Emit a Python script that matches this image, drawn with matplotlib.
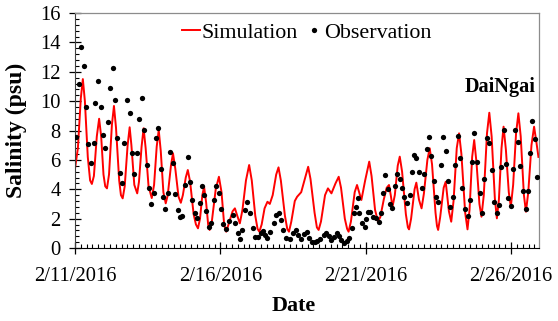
import numpy as np
import matplotlib
matplotlib.use("Agg")
from matplotlib import pyplot as plt
from matplotlib.ticker import MultipleLocator, FixedLocator, FixedFormatter

plt.rcParams['font.family'] = ['Liberation Serif', 'DejaVu Serif']

# tiempo en dias desde 2/11/2016 00:00
sim_day = [0.00, 0.10, 0.20, 0.27, 0.34, 0.44, 0.52, 0.58, 0.65, 0.75, 0.83, 0.90,
           0.98, 1.04, 1.10, 1.17, 1.27, 1.34, 1.41, 1.52, 1.58, 1.64, 1.71, 1.81,
           1.88, 1.94, 2.04, 2.14, 2.20, 2.29, 2.36, 2.43, 2.53, 2.64, 2.72, 2.81,
           2.88, 2.95, 3.04, 3.12, 3.19, 3.30, 3.37, 3.45, 3.56, 3.64, 3.71, 3.81,
           3.88, 3.96, 4.08, 4.16, 4.23, 4.30, 4.38, 4.44, 4.51, 4.58, 4.63, 4.70,
           4.84, 4.95, 5.04, 5.13, 5.20, 5.28, 5.42, 5.50, 5.58, 5.67, 5.76, 5.88,
           5.99, 6.08, 6.20, 6.28, 6.34, 6.42, 6.52, 6.62, 6.70, 6.80, 6.92, 7.00,
           7.08, 7.22, 7.30, 7.36, 7.44, 7.56, 7.64, 7.78, 7.92, 8.02, 8.10, 8.24,
           8.32, 8.38, 8.46, 8.60, 8.70, 8.82, 8.96, 9.07, 9.15, 9.28, 9.36, 9.41,
           9.49, 9.62, 9.70, 9.85, 9.98, 10.12, 10.20, 10.32, 10.42, 10.50, 10.62,
           10.72, 10.80, 10.86, 10.92, 11.00, 11.10, 11.17, 11.25, 11.38, 11.45,
           11.49, 11.56, 11.68, 11.74, 11.83, 11.92, 12.00, 12.12, 12.20, 12.28,
           12.40, 12.45, 12.49, 12.56, 12.68, 12.75, 12.86, 12.94, 13.02, 13.13,
           13.21, 13.29, 13.42, 13.50, 13.57, 13.66, 13.73, 13.81, 13.91, 13.98,
           14.06, 14.17, 14.25, 14.33, 14.44, 14.51, 14.58, 14.67, 14.74, 14.82,
           14.92, 14.99, 15.07, 15.17, 15.25, 15.33, 15.44, 15.51, 15.59, 15.70,
           15.79, 15.87, 15.94]
sim_psu = [5.4, 6.8, 10.2, 11.5, 10.0, 6.2, 4.6, 4.36, 4.9, 7.6, 8.8, 7.6,
           5.0, 4.2, 4.06, 5.0, 8.4, 9.67, 8.2, 4.6, 3.6, 3.38, 4.2, 7.0,
           8.22, 7.0, 4.3, 3.72, 4.5, 6.9, 8.15, 6.8, 4.2, 3.4, 4.3, 6.9,
           8.03, 6.6, 3.8, 3.04, 3.6, 5.6, 6.45, 5.4, 3.5, 3.08, 3.6, 4.8,
           5.31, 4.5, 2.3, 1.6, 1.34, 2.0, 3.6, 4.17, 3.1, 1.6, 1.23, 1.7,
           4.0, 4.85, 3.8, 1.6, 1.11, 1.6, 2.5, 2.70, 2.2, 1.68, 2.6, 4.6,
           5.65, 4.6, 2.2, 1.3, 1.11, 1.6, 2.7, 3.15, 3.0, 3.6, 5.0, 5.49,
           4.6, 2.2, 1.3, 1.11, 1.8, 3.2, 3.49, 3.8, 4.8, 5.53, 4.7, 2.4,
           1.4, 1.23, 1.8, 3.6, 4.06, 3.72, 4.4, 4.85, 4.1, 2.0, 1.3, 1.11,
           1.8, 3.8, 4.29, 3.27, 4.6, 5.88, 4.9, 2.6, 1.8, 2.1, 3.3,
           4.1, 4.29, 3.6, 2.81, 3.6, 5.6, 6.22, 5.2, 2.3, 1.4,
           1.27, 2.0, 4.0, 4.45, 3.3, 2.7, 3.7, 6.0, 6.79, 5.7,
           2.4, 1.5, 1.23, 2.1, 4.1, 4.51, 2.5, 1.79, 3.2, 6.8,
           7.81, 6.4, 2.4, 1.27, 2.6, 6.2, 7.35, 5.8, 3.0, 2.13,
           3.6, 7.8, 9.21, 7.6, 3.4, 2.02, 3.3, 6.8, 8.26, 6.7,
           3.8, 2.81, 4.3, 7.8, 9.17, 7.6, 3.6, 2.47, 3.8, 7.0,
           8.26, 7.2, 6.2]

obs_day = [0.03, 0.13, 0.22, 0.30, 0.38, 0.45, 0.55, 0.64, 0.70, 0.79, 0.88, 0.96,
           1.04, 1.13, 1.21, 1.29, 1.37, 1.46, 1.54, 1.61, 1.69, 1.80, 1.88, 1.96,
           2.03, 2.12, 2.21, 2.29, 2.38, 2.46, 2.53, 2.60, 2.71, 2.78, 2.86, 2.95,
           3.03, 3.11, 3.19, 3.28, 3.36, 3.44, 3.53, 3.60, 3.67, 3.77, 3.87, 3.95,
           4.02, 4.12, 4.20, 4.29, 4.37, 4.44, 4.52, 4.60, 4.69, 4.78, 4.86, 4.94,
           5.02, 5.09, 5.18, 5.30, 5.42, 5.50, 5.59, 5.68, 5.76, 5.84, 5.93, 6.01,
           6.11, 6.20, 6.30, 6.39, 6.47, 6.53, 6.62, 6.71, 6.83, 6.92, 7.00, 7.08,
           7.17, 7.27, 7.38, 7.49, 7.59, 7.68, 7.76, 7.88, 7.97, 8.06, 8.15, 8.24,
           8.34, 8.44, 8.55, 8.63, 8.72, 8.82, 8.91, 9.00, 9.07, 9.16, 9.25, 9.34,
           9.41, 9.53, 9.61, 9.67, 9.73, 9.78, 9.87, 9.96, 10.00, 10.07, 10.16, 10.26,
           10.35, 10.44, 10.51, 10.58, 10.65, 10.76, 10.83, 10.92, 11.00, 11.08, 11.17,
           11.25, 11.33, 11.42, 11.51, 11.60, 11.67, 11.74, 11.84, 11.93, 12.00, 12.09,
           12.17, 12.26, 12.34, 12.42, 12.50, 12.58, 12.67, 12.75, 12.83, 12.91, 12.99,
           13.08, 13.16, 13.25, 13.32, 13.41, 13.50, 13.58, 13.65, 13.73, 13.82, 13.92,
           14.00, 14.08, 14.16, 14.25, 14.33, 14.41, 14.50, 14.57, 14.65, 14.74, 14.82,
           14.91, 14.99, 15.07, 15.15, 15.24, 15.32, 15.40, 15.50, 15.57, 15.65, 15.73,
           15.81, 15.90]
obs_psu = [7.58, 11.2, 13.7, 12.39, 9.58, 7.08, 5.76, 7.17, 9.89, 11.39, 9.58, 7.67,
           6.79, 8.58, 10.87, 12.27, 10.07, 7.47, 5.08, 4.40, 7.17, 10.07, 9.17, 6.49,
           5.04, 6.49, 8.76, 10.19, 8.03, 5.67, 4.06, 3.0, 3.77, 7.47, 8.15, 5.36,
           3.49, 2.65, 3.77, 6.56, 5.76, 3.68, 2.59, 2.09, 2.18, 4.27, 6.17, 4.51,
           3.27, 2.36, 2.06, 3.04, 4.24, 3.61, 2.54, 1.45, 1.72, 3.27, 4.24, 3.77,
           2.65, 1.63, 1.27, 1.82, 2.25, 1.72, 1.0, 0.59, 1.23, 2.59, 3.15, 2.41,
           1.34, 0.73, 0.73, 1.0, 1.16, 0.88, 0.66, 1.11, 1.72, 2.25, 2.36, 1.91,
           1.23, 0.66, 0.59, 1.0, 1.23, 0.88, 0.59, 0.95, 1.11, 0.66, 0.43, 0.43,
           0.50, 0.59, 0.88, 1.04, 0.82, 0.54, 0.73, 1.04, 0.82, 0.54, 0.36, 0.50,
           0.66, 1.34, 2.36, 2.77, 3.38, 2.41, 1.68, 1.41, 1.95, 2.47, 2.47, 2.13,
           2.02, 1.79, 2.36, 3.77, 4.97, 4.04, 3.0, 2.70, 4.22, 5.04, 4.68,
           4.06, 3.49, 3.04, 3.61, 5.19, 6.33, 6.11, 5.19, 4.06, 5.04, 6.72,
           7.58, 6.26, 4.56, 3.49, 3.15, 5.65, 7.58, 6.62, 4.56, 2.77, 3.49,
           5.65, 7.62, 6.11, 4.06, 2.63, 2.18, 3.27, 5.88, 7.81, 5.88, 3.72,
           2.41, 4.68, 7.47, 7.13, 5.31, 3.15, 2.36, 2.93, 5.53, 8.03, 5.72,
           3.38, 2.86, 5.36, 8.03, 7.24, 5.58, 3.88, 2.63, 3.88, 6.45, 8.67,
           7.40, 4.85]

fechas_pos = [0, 5, 10, 15]
fechas = ['2/11/2016', '2/16/2016', '2/21/2016', '2/26/2016']
estacion = 'DaiNgai'

fig = plt.figure(figsize=(5.58, 3.21), dpi=100)
ax = fig.add_axes([0.1344, 0.2274, 0.8316, 0.7321])

ax.plot(sim_day, sim_psu, color='#FF0000', lw=1.4, label='Simulation', zorder=2)
ax.plot(obs_day, obs_psu, 'o', color='black', ms=3.8, mec='none',
        label='Observation', zorder=3)

ax.set_xlim(0, 15.96)
ax.set_ylim(0, 16)
ax.xaxis.set_major_locator(FixedLocator(fechas_pos))
ax.xaxis.set_major_formatter(FixedFormatter(fechas))
ax.xaxis.set_minor_locator(MultipleLocator(0.2))
ax.yaxis.set_major_locator(MultipleLocator(2))
ax.yaxis.set_minor_locator(MultipleLocator(0.4))

ax.tick_params(which='major', direction='inout', length=9, width=0.9,
               labelsize=14.8, colors='black')
ax.tick_params(which='minor', direction='in', length=3, width=0.8)
ax.tick_params(axis='y', which='major', pad=6)
ax.tick_params(axis='x', which='major', pad=9)

for lado in ['top', 'right']:
    ax.spines[lado].set_color('#8c8c8c')
    ax.spines[lado].set_linewidth(0.9)
ax.spines['left'].set_color('#404040')
ax.spines['bottom'].set_color('black')

ax.set_xlabel('Date', fontsize=15.8, fontweight='bold')
ax.xaxis.set_label_coords((294 - 75) / 464, -0.205)
ax.set_ylabel('Salinity (psu)', fontsize=17, fontweight='bold')
ax.yaxis.set_label_coords(-0.103, 0.5)

ax.text(0.9935, 0.685, estacion, transform=ax.transAxes, ha='right', va='center',
        fontsize=14.6, fontweight='bold')

ax.legend(loc='center', bbox_to_anchor=(0.5, 0.915), ncol=2, frameon=False,
          fontsize=15.8, handlelength=0.8, handletextpad=0.1, columnspacing=0.3,
          borderaxespad=0, borderpad=0, numpoints=1)

fig.savefig('out.png', dpi=100)
